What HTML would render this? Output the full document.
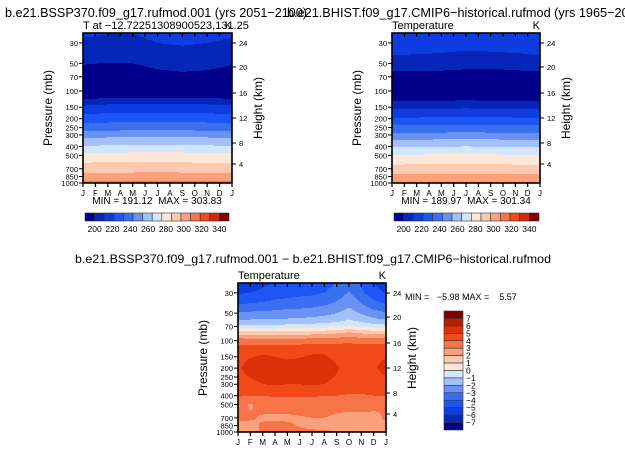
<!DOCTYPE html>
<html><head><meta charset="utf-8"><style>
html,body{margin:0;padding:0;background:#fff;}
svg{display:block;font-family:"Liberation Sans",sans-serif;}
</style></head><body>
<svg id="chart" width="625" height="450" viewBox="0 0 625 450">
<rect width="625" height="450" fill="#fff"/>
<text x="5" y="17" font-size="13" textLength="302" lengthAdjust="spacingAndGlyphs">b.e21.BSSP370.f09_g17.rufmod.001 (yrs 2051−2100)</text>
<text x="287" y="17" font-size="13" textLength="360" lengthAdjust="spacingAndGlyphs">b.e21.BHIST.f09_g17.CMIP6−historical.rufmod (yrs 1965−2014)</text>
<text x="75" y="263" font-size="12" textLength="476" lengthAdjust="spacingAndGlyphs">b.e21.BSSP370.f09_g17.rufmod.001 − b.e21.BHIST.f09_g17.CMIP6−historical.rufmod</text>
<g id="panels"></g>
</svg>
<script>
// ---- data ----
const monthLabels = ['J','F','M','A','M','J','J','A','S','O','N','D','J'];
const pressureTicks = [30,50,70,100,150,200,250,300,400,500,700,850,1000];
const heightTicks = [4,8,12,16,20,24];
const topLevels = [200,220,240,260,280,300,320,340];
const diffLevels = [7,6,5,4,3,2,1,0,-1,-2,-3,-4,-5,-6,-7];

const tlPress = [23,30,40,50,60,70,100,120,140,175,220,270,320,390,470,600,780,950,1000];
// columns: Jan, Mar, May, Jul, Sep, Nov, Jan
const sspTemp = [
 [211.5,210.5,210.3,213,214,213,211.5],
 [208.5,208,207.5,210,211,210,208.5],
 [204,203,203.5,206,207,206,204],
 [200.5,199.7,200,202,204,203,200.5],
 [198,197.5,198,199.5,200.5,199.8,198],
 [196,196,196,197,198,197,196],
 [195,195,195,195,195,195,195],
 [199.5,199.8,200,200.2,200.3,200,199.5],
 [209.5,210,210.5,210.5,210.5,210,209.5],
 [219.5,220,220.5,220.5,220.5,220,219.5],
 [229.5,230,230.5,230.5,230.5,230,229.5],
 [239.5,240,240.5,240.5,240.5,240,239.5],
 [249.5,250,250.5,250.5,250.5,250,249.5],
 [259.5,260,260.5,260.5,260.5,260,259.5],
 [269.5,270,270.5,271,270.5,269.5,269.5],
 [280,280.3,280.7,281,280.5,279.5,280],
 [289.5,290,290.5,291,290.5,289.5,289.5],
 [299.5,299.7,299.8,299.9,299.8,299.6,299.5],
 [303,303,303.5,303.8,303.3,302.8,303]
];
const histTemp = [
 [213,213,213,213.5,213.5,213.5,213],
 [212,212,212,212,212.5,212,212],
 [210.2,210,209.7,209,209.2,209.7,210.2],
 [205,204.5,204,203,203,204,205],
 [200.5,200.3,200,199.3,198.8,199.8,200.5],
 [197,197,196.5,196,195.5,196.5,197],
 [194,194,194,194,194,194,194],
 [197,197,197,197,197,197,197],
 [205,205,205.3,205.5,205.3,205,205],
 [215,215,215.3,215.5,215.3,215,215],
 [226,226,226.3,226.5,226.3,226,226],
 [237,237,237.3,237.5,237.3,237,237],
 [247,247,247.3,247.5,247.3,247,247],
 [258,258,258.3,258.5,258.3,258,258],
 [268,268.2,268.5,268.8,268.5,268,268],
 [278,278.2,278.5,278.8,278.5,278,278],
 [288.5,288.7,289,289.3,289,288.5,288.5],
 [297.5,297.8,298,298.5,298,297.5,297.5],
 [300,300.3,300.8,301.3,300.8,300,300]
];
const dfPress = [23,30,40,50,60,70,80,100,130,200,300,400,500,700,850,1000];
const diffTemp = [
 [-5.6,-5.5,-5.2,-5.0,-4.8,-4.7,-4.6,-4.4,-4.0,-3.4,-4.2,-5.0,-5.6],
 [-5.1,-5.0,-4.8,-4.6,-4.4,-4.3,-4.2,-4.0,-3.6,-2.9,-3.8,-4.6,-5.1],
 [-4.0,-3.9,-3.8,-3.6,-3.5,-3.4,-3.3,-3.1,-2.8,-2.2,-2.9,-3.6,-4.0],
 [-2.9,-2.8,-2.8,-2.7,-2.6,-2.6,-2.5,-2.3,-2.0,-1.6,-2.1,-2.6,-2.9],
 [-1.9,-1.9,-1.8,-1.8,-1.8,-1.7,-1.6,-1.5,-1.3,-0.9,-1.3,-1.7,-1.9],
 [-0.6,-0.7,-0.7,-0.7,-0.6,-0.6,-0.5,-0.4,-0.2,0.2,-0.2,-0.5,-0.6],
 [1.3,1.2,1.1,1.1,1.2,1.2,1.3,1.4,1.6,1.9,1.6,1.4,1.3],
 [3.6,3.5,3.4,3.4,3.5,3.5,3.6,3.6,3.7,3.8,3.7,3.6,3.6],
 [4.6,4.8,4.9,4.8,4.7,4.8,4.9,4.9,4.7,4.6,4.6,4.7,4.8],
 [4.9,5.3,5.4,5.4,5.3,5.3,5.4,5.4,5.1,4.7,4.7,4.9,5.3],
 [4.6,4.8,5.0,5.1,5.0,5.0,5.1,5.0,4.8,4.5,4.5,4.6,4.7],
 [4.1,4.0,4.0,4.1,4.1,4.1,4.1,4.0,4.0,3.9,3.9,4.0,4.1],
 [3.4,2.9,3.3,3.5,3.5,3.5,3.5,3.5,3.4,3.5,3.4,3.2,3.0],
 [3.2,3.1,2.9,2.8,2.8,2.9,3.0,3.0,2.8,2.6,2.7,2.8,3.1],
 [2.7,2.8,3.1,3.3,3.2,2.9,2.7,2.8,2.8,2.6,2.6,2.7,2.9],
 [2.6,2.7,3.1,3.3,3.4,3.3,3.2,3.1,3.0,2.7,2.6,2.6,2.7]
];

const diffColors = ['#00008a','#0526b8','#0d3ce0','#1e56f5','#3a70f0','#6a92f3','#a4c0f8','#d4e6fd','#fde8d8','#fccab0','#faa07c','#f67448','#f04a18','#dc3008','#b42000','#800000'];
const topColors = ['#00008a','#0526b8','#0d3ce0','#1e56f5','#3a70f0','#6a92f3','#a4c0f8','#d4e6fd','#fde8d8','#fccab0','#faa07c','#f67448','#f04a18','#d02a08','#800000'];
const heightOffsets = {4:131,8:110,12:85,16:60,20:34,24:10};

const NS='http://www.w3.org/2000/svg';
const root=document.getElementById('panels');
function mk(tag,attrs,parent){const e=document.createElementNS(NS,tag);for(const k in attrs)e.setAttribute(k,attrs[k]);(parent||root).appendChild(e);return e;}
const PTOP=23.4, LTOP=Math.log10(PTOP), LBOT=3;

function sample(grid,press,t,p){
  const nc=grid[0].length; const fx=t*(nc-1); let i=Math.min(Math.floor(fx),nc-2); const ax=fx-i;
  const lp=Math.log10(p); let j=0;
  while(j<press.length-2 && Math.log10(press[j+1])<lp) j++;
  const l0=Math.log10(press[j]),l1=Math.log10(press[j+1]);
  let ay=(lp-l0)/(l1-l0); ay=Math.max(0,Math.min(1,ay));
  const v0=grid[j][i]*(1-ax)+grid[j][i+1]*ax;
  const v1=grid[j+1][i]*(1-ax)+grid[j+1][i+1]*ax;
  return v0*(1-ay)+v1*ay;
}
function topIdx(v){if(v<200)return 0;return Math.min(14,Math.floor((v-200)/10)+1);}
function diffIdx(v){return Math.max(0,Math.min(15,Math.floor(v)+8));}

function panel(name,x0,y0,w,h,grid,press,colorFn,colors,topLeftText,topRightText){
  const g=mk('g',{});
  
  
  const yOf=p=>y0+(Math.log10(p)-LTOP)/(LBOT-LTOP)*h;
  const xOf=m=>x0+m/12*w;
  const fld=mk('g',{'shape-rendering':'crispEdges'},g);
  
  
  const step=1;
  for(let py=0;py<h;py+=step){
    const p=Math.pow(10,LTOP+(py+step/2)/h*(LBOT-LTOP));
    let run=null;
    for(let px=0;px<w;px+=step){
      const t=(px+step/2)/w;
      const c=colors[colorFn(sample(grid,press,t,p))];
      if(run&&run.c===c){run.w+=step;}
      else{ if(run) mk('rect',{x:x0+run.x,y:y0+py,width:run.w+0.5,height:step+0.5,fill:run.c},fld); run={x:px,w:step,c:c}; }
    }
    const ww=Math.min(run.w, w-run.x);
    mk('rect',{x:x0+run.x,y:y0+py,width:ww,height:Math.min(step+0.5,h-py),fill:run.c},fld);
  }
  const fr=mk('rect',{x:x0,y:y0,width:w,height:h,fill:'none',stroke:'#000','stroke-width':1.6},g);
  
  
  monthLabels.forEach((m,i)=>{
    const x=xOf(i);
    mk('line',{x1:x,y1:y0,x2:x,y2:y0+4,stroke:'#000','stroke-width':1.2},g);
    mk('line',{x1:x,y1:y0+h,x2:x,y2:y0+h+4,stroke:'#000','stroke-width':1.2},g);
    const t=mk('text',{x:x,y:y0+h+13,'font-size':8,'text-anchor':'middle'},g);
    
    
    t.textContent=m;
  });
  pressureTicks.forEach(p=>{
    const y=yOf(p);
    mk('line',{x1:x0-4,y1:y,x2:x0,y2:y,stroke:'#000','stroke-width':1},g);
    const t=mk('text',{x:x0-5,y:y+3,'font-size':7.5,'text-anchor':'end'},g);
    
    
    t.textContent=p;
  });
  heightTicks.forEach(k=>{
    const y=y0+heightOffsets[k];
    mk('line',{x1:x0+w,y1:y,x2:x0+w+4,y2:y,stroke:'#000','stroke-width':1},g);
    const t=mk('text',{x:x0+w+7,y:y+3,'font-size':7.5},g);
    
    
    t.textContent=k;
  });
  const yl=mk('text',{x:0,y:0,'font-size':12,'text-anchor':'middle',transform:`translate(${x0-31},${y0+75}) rotate(-90)`},g);
  
  
  yl.textContent='Pressure (mb)';
  const yr=mk('text',{x:0,y:0,'font-size':12,'text-anchor':'middle',transform:`translate(${x0+w+30},${y0+75}) rotate(-90)`},g);
  
  
  yr.textContent='Height (km)';
  const tl=mk('text',{x:x0,y:y0-4,'font-size':11},g);
  
  
  tl.textContent=topLeftText;
  const tr=mk('text',{x:x0+w,y:y0-4,'font-size':11,'text-anchor':'end'},g);
  
  
  tr.textContent=topRightText;
}

panel('ssp370-panel',83,33,149,150,sspTemp,tlPress,topIdx,topColors,'T at −12.72251308900523,131.25','K');
panel('historical-panel',392,33,148,150,histTemp,tlPress,topIdx,topColors,'Temperature','K');
panel('difference-panel',238,283,148,149,diffTemp,dfPress,diffIdx,diffColors,'Temperature','K');

function txt(x,y,s,size,name,anchor){const t=mk('text',{x:x,y:y,'font-size':size,'text-anchor':anchor||'start'});t.setAttribute('xml:space','preserve');t.style.whiteSpace='pre';t.textContent=s;return t;}
txt(157,204,'MIN = 191.12  MAX = 303.83',10,'ssp370-min-max','middle');
txt(466,204,'MIN = 189.97  MAX = 301.34',10,'historical-min-max','middle');
txt(405,300,'MIN =   −5.98 MAX =    5.57',9,'difference-min-max','start');

function hbar(name,x0,x1,y0,hgt){
  const g=mk('g',{});
  
  
  const n=topColors.length, bw=(x1-x0)/n;
  topColors.forEach((c,i)=>{
    const r=mk('rect',{x:x0+i*bw,y:y0,width:bw,height:hgt,fill:c,stroke:'#333','stroke-width':0.6},g);
    
    
  });
  const a=x0+bw, b=x0+14*bw;
  topLevels.forEach((v,i)=>{
    const x=a+(v-topLevels[0])/(topLevels[topLevels.length-1]-topLevels[0])*(b-a);
    const t=mk('text',{x:x,y:y0+hgt+11,'font-size':8.5,'text-anchor':'middle'},g);
    
    
    t.textContent=v;
  });
}
hbar('ssp370-colorbar',85,229,213,8);
hbar('historical-colorbar',394,539,213,8);

(function(){
  const g=mk('g',{});
  
  
  const x0=444,w=19,y0=311,H=119,n=diffColors.length,bh=H/n;
  diffColors.slice().reverse().forEach((c,i)=>{
    const r=mk('rect',{x:x0,y:y0+i*bh,width:w,height:bh,fill:c,stroke:'#333','stroke-width':0.6},g);
    
    
  });
  diffLevels.forEach((v,i)=>{
    const t=mk('text',{x:x0+w+3,y:y0+(i+1)*bh+3,'font-size':8.5},g);
    
    
    t.textContent=v<0?'−'+(-v):' '+v;
  });
})();
</script>
</body></html>
